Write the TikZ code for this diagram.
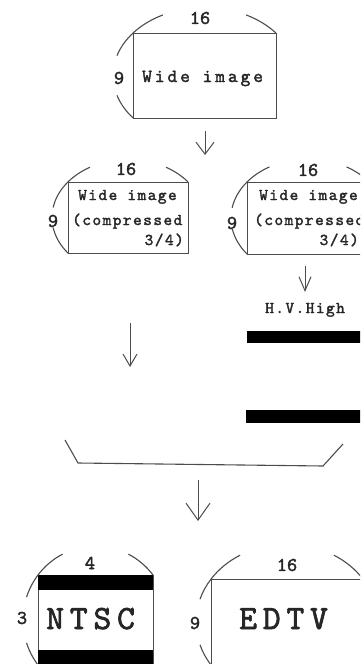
\documentclass[tikz,border=0pt]{standalone}
\usepackage{fontspec}
\newfontfamily\tw{lmmono10-regular}[Extension=.otf,FakeBold=2]
\usetikzlibrary{calc,arrows.meta}
\definecolor{ln}{gray}{0.3}
\newcommand\tfont[2]{\tw\fontsize{#1}{#1}\selectfont\addfontfeatures{LetterSpace=#2}}
\newcommand\ellarc[5]{\draw[arcl] ($(#1)+(#4:#2pt and #3pt)$) arc[start angle=#4,end angle=#5,x radius=#2pt,y radius=#3pt];}
\begin{document}
\begin{tikzpicture}[x=1pt,y=-1pt,
  box/.style={draw=ln,line width=0.9pt,inner sep=0pt},
  arcl/.style={draw=ln,line width=1.1pt},
  lab/.style={inner sep=0pt,text=black!85,font={\tfont{19.5}{0}}},
  txt/.style={inner sep=0pt,text=black!85},
  arr/.style args={#1/#2}{draw=ln,line width=1pt,-{Straight Barb[length=#1,width=#2]}},
]
\useasboundingbox (0,0) rectangle (360,664);
\clip (0,0) rectangle (360,664);
% top box
\node[box,minimum width=143pt,minimum height=85pt] (wide) at (204.5,75.5) {};
\node[txt,anchor=base west,font={\tfont{18.5}{16}}] (wt) at (142,82) {Wide image};
\node[lab] (w16) at (200,18) {16};
\node[lab] (w9) at (119,78) {9};
\ellarc{wide.center}{91.5}{68}{117}{141.3}
\ellarc{wide.center}{91.5}{68}{38.7}{63}
\ellarc{wide.center}{91.5}{68}{141.3}{163}
\ellarc{wide.center}{91.5}{68}{197}{218.7}
% arrow 1
\coordinate (a1s) at (205,131);
\coordinate (a1e) at (205,155);
\draw[arr={12pt/18pt}] (a1s) -- (a1e);
% left compressed box
\node[box,minimum width=120pt,minimum height=71pt] (cl) at (128,217.5) {};
\node[txt,anchor=base west,font={\tfont{16.5}{9}}] (cl1) at (78,200) {Wide image};
\node[txt,anchor=base west,font={\tfont{16.5}{9}}] (cl2) at (72,225) {(compressed};
\node[txt,anchor=base east,font={\tfont{16.5}{9}}] (cl3) at (184,245) {3/4)};
\node[lab] (cl16) at (126,169) {16};
\node[lab] (cl9) at (53,221) {9};
\ellarc{cl.center}{76}{58}{120}{142}
\ellarc{cl.center}{76}{58}{38}{60}
\ellarc{cl.center}{76}{58}{142}{170}
\ellarc{cl.center}{76}{58}{190}{218}
% right compressed box
\node[box,minimum width=122pt,minimum height=72pt] (cr) at (308,218) {};
\node[txt,anchor=base west,font={\tfont{16.5}{9}}] (cr1) at (259,200) {Wide image};
\node[txt,anchor=base west,font={\tfont{16.5}{9}}] (cr2) at (254,225) {(compressed};
\node[txt,anchor=base east,font={\tfont{16.5}{9}}] (cr3) at (359,245) {3/4)};
\node[lab] (cr16) at (308,170) {16};
\node[lab] (cr9) at (232,223) {9};
\ellarc{cr.center}{77}{59}{120}{142.4}
\ellarc{cr.center}{77}{59}{37.6}{60}
\ellarc{cr.center}{77}{59}{142.4}{170}
\ellarc{cr.center}{77}{59}{190}{217.6}
% arrow 2 and H.V.High
\coordinate (a2s) at (305,266);
\coordinate (a2e) at (305,292);
\draw[arr={14pt/12pt}] (a2s) -- (a2e);
\node[txt,anchor=base west,font={\tfont{16.5}{9}}] (hv) at (265,313) {H.V.High};
\fill[black] (247,331) rectangle (380,343);
\fill[black] (246,410) rectangle (380,423);
% arrow 3
\coordinate (a3s) at (130,323);
\coordinate (a3e) at (130,367);
\draw[arr={12pt/14pt}] (a3s) -- (a3e);
% bracket
\coordinate (b1) at (65,440);
\coordinate (b2) at (78,463);
\coordinate (b3) at (323,466);
\coordinate (b4) at (343,444);
\draw[arcl] (b1) -- (b2) -- (b3) -- (b4);
% arrow 4
\coordinate (a4s) at (198,480);
\coordinate (a4e) at (198,521);
\draw[arr={17pt/24pt}] (a4s) -- (a4e);
% NTSC
\node[box,minimum width=115pt,minimum height=90pt] (ntsc) at (95.5,620) {};
\fill[black] (ntsc.north west) rectangle ([yshift=-15pt]ntsc.north east);
\fill[black] ([yshift=15pt]ntsc.south west) rectangle (ntsc.south east);
\node[txt,anchor=base west,font={\tfont{34}{17}}] (nt) at (46,629) {NTSC};
\node[lab] (n4) at (90,563) {4};
\node[lab] (n3) at (22,618) {3};
\ellarc{ntsc.center}{72.5}{73.9}{117}{142.5}
\ellarc{ntsc.center}{72.5}{73.9}{37.5}{63}
\ellarc{ntsc.center}{72.5}{73.9}{142.5}{162}
\ellarc{ntsc.center}{72.5}{73.9}{198}{222}
% EDTV
\node[box,minimum width=152pt,minimum height=86pt] (edtv) at (287,622) {};
\node[txt,anchor=base west,font={\tfont{34}{17}}] (et) at (239,629) {EDTV};
\node[lab] (e16) at (287,565) {16};
\node[lab] (e9) at (195,623) {9};
\ellarc{edtv.center}{91}{78}{121}{146.6}
\ellarc{edtv.center}{91}{78}{33.4}{59}
\ellarc{edtv.center}{91}{78}{146.6}{163}
\ellarc{edtv.center}{91}{78}{197}{214}
\end{tikzpicture}
\end{document}
